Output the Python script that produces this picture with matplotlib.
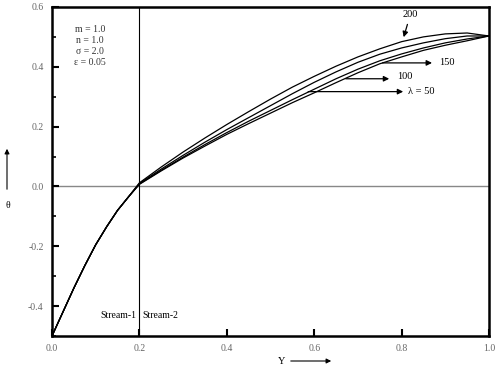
import matplotlib.pyplot as plt
import numpy as np
from matplotlib.ticker import MultipleLocator

plt.rcParams['font.family'] = ['Liberation Serif', 'DejaVu Serif']

# Y 坐标 (stream-1: 0~0.2, stream-2: 0.2~1.0)
y_stream1 = [0.0, 0.025, 0.05, 0.075, 0.1, 0.125, 0.15, 0.175]
y_stream2 = [0.2, 0.25, 0.3, 0.35, 0.4, 0.45, 0.5, 0.55, 0.6, 0.65,
             0.7, 0.75, 0.8, 0.85, 0.9, 0.95, 1.0]

# stream-1 中各曲线几乎重合
theta_stream1 = [-0.5, -0.42, -0.34, -0.265, -0.195, -0.135, -0.08, -0.035]

theta_200 = [0.012, 0.065, 0.115, 0.162, 0.207, 0.25, 0.292, 0.332, 0.368,
             0.402, 0.433, 0.46, 0.484, 0.5, 0.51, 0.513, 0.503]
theta_150 = [0.010, 0.058, 0.104, 0.148, 0.19, 0.23, 0.27, 0.31, 0.348,
             0.383, 0.415, 0.442, 0.463, 0.48, 0.494, 0.503, 0.503]
theta_100 = [0.008, 0.054, 0.098, 0.14, 0.18, 0.218, 0.254, 0.29, 0.325,
             0.36, 0.392, 0.42, 0.443, 0.463, 0.48, 0.493, 0.503]
theta_50 = [0.007, 0.052, 0.095, 0.135, 0.174, 0.21, 0.245, 0.28, 0.313,
            0.347, 0.38, 0.41, 0.433, 0.455, 0.472, 0.487, 0.503]

curves = [theta_200, theta_150, theta_100, theta_50]

fig = plt.figure(figsize=(4.98, 3.67), dpi=100)
ax = fig.add_axes([0.1044, 0.0845, 0.8775, 0.8965])

x_all = y_stream1 + y_stream2
for th in curves:
    ax.plot(x_all, theta_stream1 + th, color='black', lw=0.9)

# 参考线
ax.axhline(0.0, color='#888888', lw=1.0, zorder=0)
ax.axvline(0.2, color='black', lw=0.8)

ax.set_xlim(0, 1.0)
ax.set_ylim(-0.5, 0.6)
ax.xaxis.set_major_locator(MultipleLocator(0.2))
ax.yaxis.set_minor_locator(MultipleLocator(0.1))
ax.set_xticks([0.0, 0.2, 0.4, 0.6, 0.8, 1.0])
ax.set_xticklabels(['0.0', '0.2', '0.4', '0.6', '0.8', '1.0'])
ax.set_yticks([-0.4, -0.2, 0.0, 0.2, 0.4, 0.6])
ax.set_yticklabels(['-0.4', '-0.2', '0.0', '0.2', '0.4', '0.6'])
ax.tick_params(which='major', direction='in', length=5, width=1.5,
               labelsize=7, labelcolor='#666666', pad=6)
ax.tick_params(which='minor', direction='in', length=3, width=1.2)
for s in ax.spines.values():
    s.set_linewidth(1.8)

# 参数文字
params = ['m = 1.0', 'n = 1.0', 'σ = 2.0', 'ε = 0.05']
for i, t in enumerate(params):
    ax.text(0.087, 0.525 - i * 0.037, t, fontsize=7, ha='center', va='center',
            color='#333333')

ax.text(0.193, -0.43, 'Stream-1', fontsize=7, ha='right', va='center')
ax.text(0.207, -0.43, 'Stream-2', fontsize=7, ha='left', va='center')

# 曲线标注
arrow = dict(arrowstyle='-|>', color='black', lw=0.9, mutation_scale=8)
ax.annotate('200', xy=(0.803, 0.49), xytext=(0.82, 0.575), fontsize=7.5,
            ha='center', va='center', arrowprops=arrow)
ax.annotate('', xy=(0.876, 0.413), xytext=(0.75, 0.413), arrowprops=arrow)
ax.text(0.885, 0.416, '150', fontsize=7.5, ha='left', va='center')
ax.annotate('', xy=(0.778, 0.36), xytext=(0.666, 0.36), arrowprops=arrow)
ax.text(0.79, 0.366, '100', fontsize=7.5, ha='left', va='center')
ax.annotate('', xy=(0.81, 0.317), xytext=(0.58, 0.317), arrowprops=arrow)
ax.text(0.815, 0.317, 'λ = 50', fontsize=7.5, ha='left', va='center')

# 轴标签及箭头
fig.text(282 / 498, 1 - 361 / 367, 'Y', fontsize=7.5, ha='center', va='center')
fig.add_artist(plt.matplotlib.patches.FancyArrowPatch(
    (288 / 498, 1 - 361 / 367), (334 / 498, 1 - 361 / 367),
    transform=fig.transFigure, arrowstyle='-|>', mutation_scale=7, lw=0.8,
    color='black'))
fig.text(8 / 498, 1 - 205 / 367, 'θ', fontsize=7, ha='center', va='center')
fig.add_artist(plt.matplotlib.patches.FancyArrowPatch(
    (7 / 498, 1 - 192 / 367), (7 / 498, 1 - 146 / 367),
    transform=fig.transFigure, arrowstyle='-|>', mutation_scale=7, lw=0.8,
    color='black'))

fig.savefig('out.png', dpi=100)
